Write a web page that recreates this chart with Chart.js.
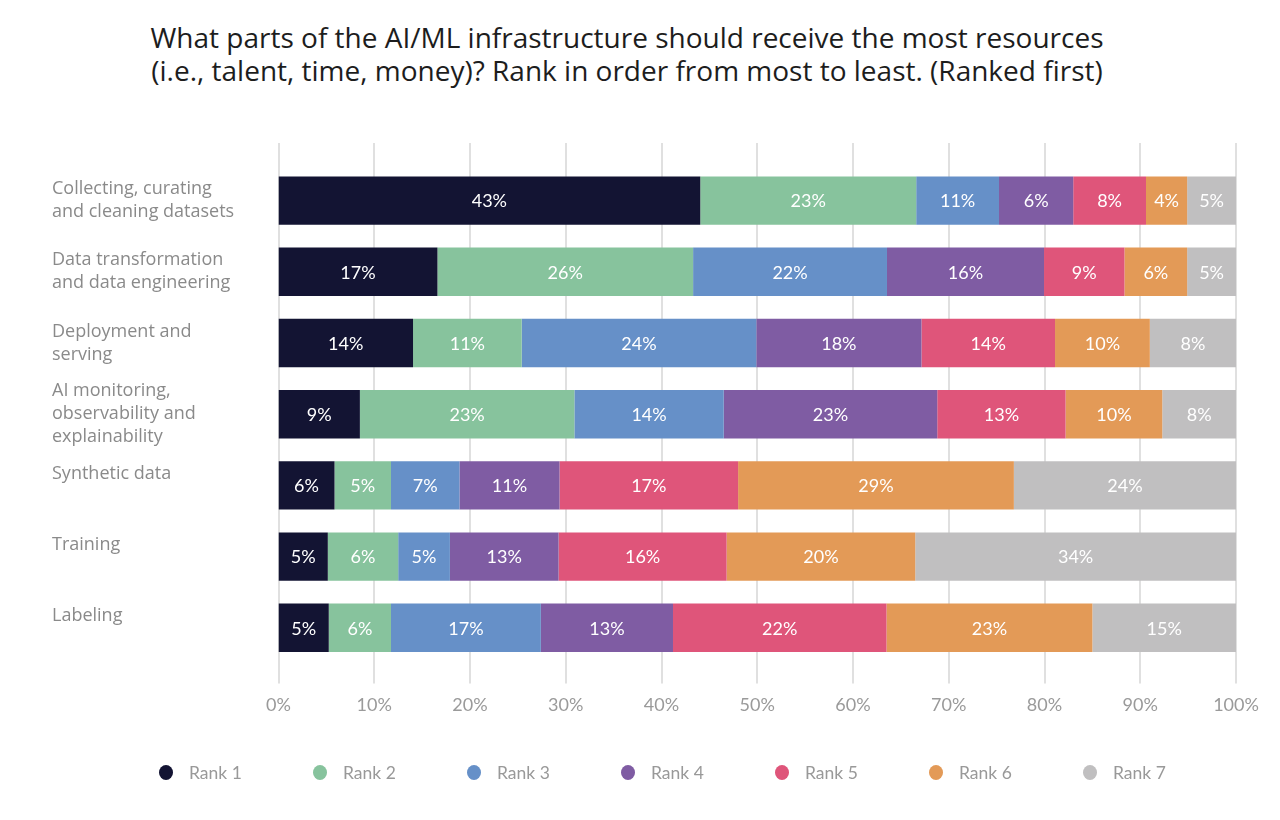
<!DOCTYPE html>
<html>
<head>
<meta charset="utf-8">
<script src="https://cdn.jsdelivr.net/npm/chart.js@4.4.1/dist/chart.umd.min.js"></script>
<style>
  html, body { margin: 0; padding: 0; background: #fff; }
  #wrap { position: relative; width: 1280px; height: 820px; }
  #title {
    position: absolute; left: 0; top: 21px; width: 1254px;
    text-align: center; font-family: "Open Sans", sans-serif;
    font-size: 28px; line-height: 33px; color: #1d1d1d;
  }
  #legend {
    position: absolute; left: 159px; top: 760px; display: flex;
    font-family: Lato, sans-serif; font-size: 17.5px; color: #999;
  }
  #legend .item { width: 154px; display: flex; align-items: center; height: 24px; }
  #legend .dot { width: 14px; height: 15px; border-radius: 50%; margin-right: 16px; }
  canvas { position: absolute; left: 0; top: 0; }
</style>
</head>
<body>
<div id="wrap">
  <div id="title">What parts of the AI/ML infrastructure should receive the most resources<br>(i.e., talent, time, money)? Rank in order from most to least. (Ranked first)</div>
  <canvas id="chart" width="1280" height="820"></canvas>
  <div id="legend"></div>
</div>
<script>
// categorias (linhas vazias seguram o rótulo de uma linha perto do topo da barra)
const categories = [
  ["Collecting, curating", "and cleaning datasets"],
  ["Data transformation", "and data engineering"],
  ["Deployment and", "serving"],
  ["AI monitoring,", "observability and", "explainability"],
  ["Synthetic data", ""],
  ["Training", ""],
  ["Labeling", ""],
];

const rankNames = ["Rank 1", "Rank 2", "Rank 3", "Rank 4", "Rank 5", "Rank 6", "Rank 7"];
const rankColors = ["#131433", "#87c39d", "#6690c8", "#7f5ca3", "#df557a", "#e39a57", "#c0bfc0"];

// largura de cada segmento como aparece no gráfico (%)
const rank1 = [44.05, 16.6, 14.05, 8.5, 5.85, 5.15, 5.25];
const rank2 = [22.55, 26.7, 11.35, 22.4, 5.9, 7.35, 6.5];
const rank3 = [8.65, 20.25, 24.5, 15.6, 7.15, 5.4, 15.65];
const rank4 = [7.75, 16.4, 17.25, 22.3, 10.45, 11.35, 13.8];
const rank5 = [7.6, 8.4, 13.95, 13.4, 18.65, 17.55, 22.3];
const rank6 = [4.3, 6.55, 9.9, 10.1, 28.8, 19.7, 21.5];
const rank7 = [5.1, 5.1, 9.0, 7.7, 23.2, 33.5, 15.0];

// rótulos impressos dentro de cada segmento
const rank1Labels = [43, 17, 14, 9, 6, 5, 5];
const rank2Labels = [23, 26, 11, 23, 5, 6, 6];
const rank3Labels = [11, 22, 24, 14, 7, 5, 17];
const rank4Labels = [6, 16, 18, 23, 11, 13, 13];
const rank5Labels = [8, 9, 14, 13, 17, 16, 22];
const rank6Labels = [4, 6, 10, 10, 29, 20, 23];
const rank7Labels = [5, 5, 8, 8, 24, 34, 15];

const xTicks = [0, 10, 20, 30, 40, 50, 60, 70, 80, 90, 100];

const series = [rank1, rank2, rank3, rank4, rank5, rank6, rank7];
const seriesLabels = [rank1Labels, rank2Labels, rank3Labels, rank4Labels, rank5Labels, rank6Labels, rank7Labels];

// grades verticais que passam um pouco acima e abaixo da área do gráfico
const gridPlugin = {
  id: "gridExtended",
  beforeDatasetsDraw(chart) {
    const { ctx, chartArea, scales: { x } } = chart;
    ctx.save();
    ctx.strokeStyle = "#e0e0e0";
    ctx.lineWidth = 2;
    xTicks.forEach(v => {
      const px = Math.round(x.getPixelForValue(v));
      ctx.beginPath();
      ctx.moveTo(px, chartArea.top - 22);
      ctx.lineTo(px, chartArea.bottom + 20);
      ctx.stroke();
    });
    ctx.restore();
  },
};

// valor em branco no meio de cada segmento
const barLabelPlugin = {
  id: "barLabels",
  afterDatasetsDraw(chart) {
    const { ctx } = chart;
    ctx.save();
    ctx.fillStyle = "#ffffff";
    ctx.font = "18px Lato, sans-serif";
    ctx.textAlign = "center";
    ctx.textBaseline = "middle";
    chart.data.datasets.forEach((ds, di) => {
      chart.getDatasetMeta(di).data.forEach((bar, i) => {
        const cx = (bar.x + bar.base) / 2;
        ctx.fillText(seriesLabels[di][i] + "%", cx, bar.y + 1);
      });
    });
    ctx.restore();
  },
};

new Chart(document.getElementById("chart").getContext("2d"), {
  type: "bar",
  data: {
    labels: categories,
    datasets: series.map((data, i) => ({
      label: rankNames[i],
      data,
      backgroundColor: rankColors[i],
      borderWidth: 0,
      barPercentage: 1,
      categoryPercentage: 0.68,
    })),
  },
  options: {
    indexAxis: "y",
    responsive: false,
    animation: false,
    events: [],
    layout: { padding: { top: 165, left: 52, right: 44, bottom: 73 } },
    scales: {
      x: {
        stacked: true,
        min: 0,
        max: 100,
        grid: { display: false, drawTicks: false },
        border: { display: false },
        // o rótulo "100%" cabe na margem direita, sem encolher a área
        afterFit(scale) { scale.paddingLeft = 0; scale.paddingRight = 0; },
        ticks: {
          stepSize: 10,
          padding: 31,
          color: "#9a9a9a",
          font: { family: "Lato", size: 18 },
          callback: v => v + "%",
        },
      },
      y: {
        stacked: true,
        grid: { display: false, drawTicks: false },
        border: { display: false },
        afterFit(scale) { scale.width = 226.5; },
        ticks: {
          autoSkip: false,
          crossAlign: "far",
          color: "#8a8a8a",
          font: { family: "Open Sans", size: 18, lineHeight: 1.28 },
        },
      },
    },
    plugins: {
      legend: { display: false },
      tooltip: { enabled: false },
    },
  },
  plugins: [gridPlugin, barLabelPlugin],
});

// legenda em HTML, mesma ordem e cores dos datasets
const legend = document.getElementById("legend");
rankNames.forEach((name, i) => {
  const item = document.createElement("div");
  item.className = "item";
  item.innerHTML = `<span class="dot" style="background:${rankColors[i]}"></span><span>${name}</span>`;
  legend.appendChild(item);
});
</script>
</body>
</html>
